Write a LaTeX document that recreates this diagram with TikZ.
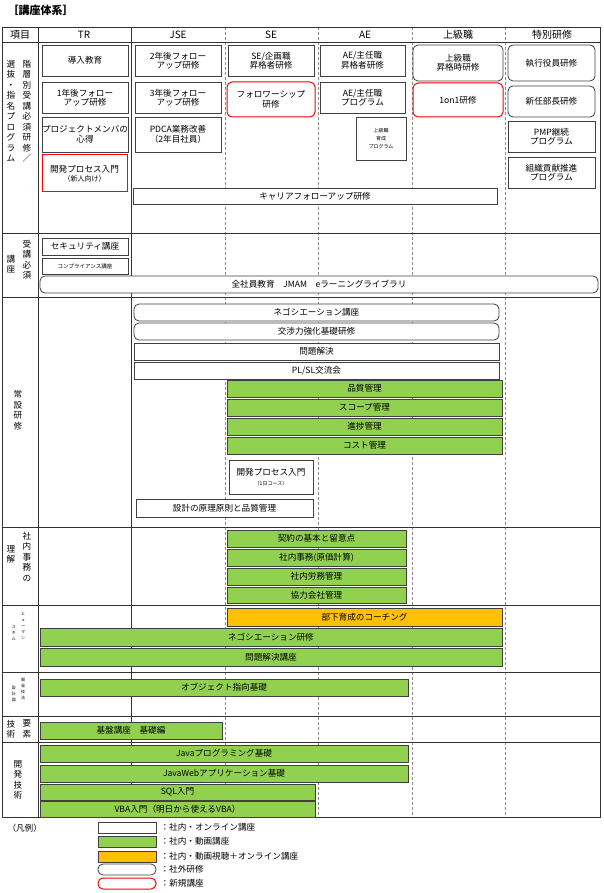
\documentclass[tikz,border=0pt]{standalone}
\usepackage{fontspec}
\setmainfont{Noto Sans CJK JP}
\definecolor{kgreen}{HTML}{92D050}
\definecolor{korange}{HTML}{FFC000}
\definecolor{kred}{HTML}{FF0000}
% course box: style, x1, y1, x2, y2, name, text (pixel coordinates)
\newcommand{\course}[7]{%
  \node[#1, minimum width={#4pt-#2pt}, minimum height={#5pt-#3pt}]
    (#6) at ({(#2+#4)/2},{-(#3+#5)/2}) {#7};}
\begin{document}
\begin{tikzpicture}[x=1pt, y=1pt, font=\fontsize{8.6}{9.5}\selectfont,
    plain/.style={draw=black!75, fill=white, line width=0.8pt, inner sep=0pt, align=center},
    outside/.style={plain, rounded corners=5pt},
    newone/.style={plain, draw=kred, line width=1pt},
    newround/.style={newone, rounded corners=5pt},
    video/.style={plain, fill=kgreen},
    mixed/.style={plain, fill=korange},
    grid/.style={black!80, line width=0.8pt},
    colline/.style={black!45, densely dashed, line width=0.5pt},
    vlabel/.style={align=center, inner sep=0pt, font=\fontsize{8.6}{10.5}\selectfont},
    tinylabel/.style={align=center, inner sep=0pt, font=\fontsize{4}{6}\selectfont}
]
\useasboundingbox (0,0) rectangle (604,-893);

% --- Titel und Raster ---
\node[anchor=west, font=\fontsize{11}{12}\selectfont\bfseries] (title) at (4,-10) {［講座体系］};
\foreach \cx in {225,318,412,505} \draw[colline] (\cx,-27) -- (\cx,-817);
\draw[grid] (2,-27) rectangle (600,-817);
\draw[grid] (38,-27) -- (38,-817);
\draw[grid] (131,-27) -- (131,-817);
\foreach \ry in {42,233,297,527,605,672,716,742} \draw[grid] (2,-\ry) -- (600,-\ry);

% --- Kopfzeile ---
\foreach \lx/\lt/\ln in {20/項目/h0, 84/TR/h1, 178/JSE/h2, 271/SE/h3, 365/AE/h4, 458/上級職/h5, 552/特別研修/h6}
  \node[font=\fontsize{10}{11}\selectfont] (\ln) at (\lx,-35) {\lt};

% --- Bereichsbeschriftungen ---
\node[vlabel, anchor=north] (s1a) at (11,-60) {選\\抜\\・\\指\\名\\プ\\ロ\\グ\\ラ\\ム};
\node[vlabel, anchor=north] (s1b) at (27,-60) {階\\層\\別\\受\\講\\必\\須\\研\\修\\／};
\node[vlabel, anchor=north] (s2a) at (11,-255) {講\\座};
\node[vlabel, anchor=north] (s2b) at (27,-240) {受\\講\\必\\須};
\node[vlabel] (s3) at (18,-410) {常\\設\\研\\修};
\node[vlabel, anchor=north] (s4a) at (11,-545) {理\\解};
\node[vlabel, anchor=north] (s4b) at (27,-532) {社\\内\\事\\務\\の};
\node[tinylabel, anchor=north] (s5a) at (14,-625) {ス\\キ\\ル};
\node[tinylabel, anchor=north] (s5b) at (23,-612) {ヒ\\ュ\\ー\\マ\\ン};
\node[tinylabel, anchor=north] (s6a) at (14,-686) {設\\計\\論};
\node[tinylabel, anchor=north] (s6b) at (23,-678) {開\\発\\技\\法};
\node[vlabel] (s7a) at (11,-729) {技\\術};
\node[vlabel] (s7b) at (27,-729) {要\\素};
\node[vlabel] (s8) at (18,-780) {開\\発\\技\\術};

% --- 階層別 ---
\course{plain}{42}{45}{128}{76}{tr1}{導入教育}
\course{plain}{42}{82}{128}{113}{tr2}{1年後フォロー\\アップ研修}
\course{plain}{42}{117}{128}{152}{tr3}{プロジェクトメンバの\\心得}
\course{newone}{42}{155}{127}{192}{tr4}{開発プロセス入門\\{\fontsize{7}{9}\selectfont（新人向け）}}
\course{plain}{135}{45}{221}{76}{jse1}{2年後フォロー\\アップ研修}
\course{plain}{135}{82}{221}{113}{jse2}{3年後フォロー\\アップ研修}
\course{plain}{135}{117}{221}{152}{jse3}{PDCA業務改善\\（2年目社員）}
\course{plain}{228}{45}{314}{76}{se1}{SE/企画職\\昇格者研修}
\course{newround}{227}{82}{315}{117}{se2}{フォロワーシップ\\研修}
\course{plain}{320}{45}{405}{76}{ae1}{AE/主任職\\昇格者研修}
\course{plain}{320}{82}{405}{113}{ae2}{AE/主任職\\プログラム}
\course{plain, font=\fontsize{5}{8}\selectfont}{356}{117}{406}{160}{ae3}{上級職\\育成\\プログラム}
\course{outside}{413}{45}{503}{81}{sr1}{上級職\\昇格時研修}
\course{newround}{413}{83}{503}{117}{sr2}{1on1研修}
\course{outside}{508}{45}{595}{81}{sp1}{執行役員研修}
\course{outside}{508}{86}{595}{117}{sp2}{新任部長研修}
\course{plain}{508}{121}{595}{152}{sp3}{PMP継続\\プログラム}
\course{plain}{508}{157}{595}{188}{sp4}{組織貢献推進\\プログラム}
\course{plain}{133}{188}{497}{204}{career}{キャリアフォローアップ研修}

% --- 受講必須 ---
\course{plain}{42}{238}{128}{255}{sec}{セキュリティ講座}
\course{plain, font=\fontsize{5.5}{7}\selectfont}{42}{258}{128}{274}{comp}{コンプライアンス講座}
\course{outside}{40}{276}{598}{293}{jmam}{全社員教育　JMAM　eラーニングライブラリ}

% --- 常設研修 ---
\course{outside}{134}{304}{499}{321}{nego1}{ネゴシエーション講座}
\course{outside}{134}{323}{499}{340}{nego2}{交渉力強化基礎研修}
\course{plain}{134}{343}{499}{360}{prob1}{問題解決}
\course{plain}{134}{362}{499}{379}{plsl}{PL/SL交流会}
\course{video}{227}{380}{502}{397}{qual}{品質管理}
\course{video}{227}{399}{502}{416}{scope}{スコープ管理}
\course{video}{227}{418}{502}{435}{prog}{進捗管理}
\course{video}{227}{437}{502}{454}{cost}{コスト管理}
\course{plain}{229}{460}{313}{494}{devday}{開発プロセス入門\\{\fontsize{5}{8}\selectfont（1日コース）}}
\course{plain}{136}{499}{313}{517}{design}{設計の原理原則と品質管理}

% --- 社内事務 ---
\course{video}{227}{530}{406}{547}{contract}{契約の基本と留意点}
\course{video}{227}{549}{406}{566}{office}{社内事務(原価計算)}
\course{video}{227}{568}{406}{585}{labor}{社内労務管理}
\course{video}{227}{587}{406}{603}{partner}{協力会社管理}

% --- ヒューマンスキル ---
\course{mixed}{227}{608}{502}{626}{coach}{部下育成のコーチング}
\course{video}{40}{628}{502}{646}{nego3}{ネゴシエーション研修}
\course{video}{40}{648}{502}{666}{prob2}{問題解決講座}

% --- 技術 ---
\course{video}{40}{679}{408}{696}{oop}{オブジェクト指向基礎}
\course{video}{40}{722}{222}{739}{infra}{基盤講座　基礎編}
\course{video}{40}{745}{408}{762}{java}{Javaプログラミング基礎}
\course{video}{40}{765}{408}{782}{javaweb}{JavaWebアプリケーション基礎}
\course{video}{40}{784}{315}{800}{sql}{SQL入門}
\course{video}{40}{801}{315}{817}{vba}{VBA入門（明日から使えるVBA）}

% --- 凡例 ---
\node[anchor=west] (legend) at (4,-828) {（凡例）};
\course{plain}{98}{822}{156}{833}{lg1}{}
\course{video}{98}{836}{156}{847}{lg2}{}
\course{mixed}{98}{851}{156}{862}{lg3}{}
\course{outside}{98}{864}{156}{875}{lg4}{}
\course{newround}{98}{878}{156}{889}{lg5}{}
\foreach \ln/\lt in {lg1/：社内・オンライン講座, lg2/：社内・動画講座, lg3/：社内・動画視聴＋オンライン講座, lg4/：社外研修, lg5/：新規講座}
  \node[anchor=west, inner sep=0pt] at ([xshift=4pt]\ln.east) {\lt};
\end{tikzpicture}
\end{document}
